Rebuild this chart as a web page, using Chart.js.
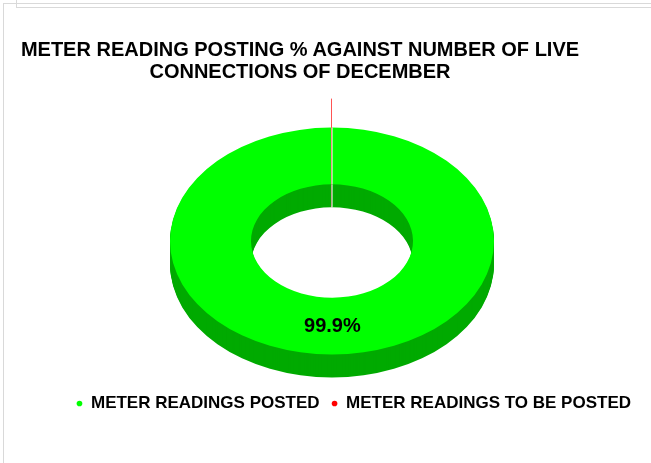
<!DOCTYPE html>
<html>
<head>
<meta charset="utf-8">
<script src="https://cdn.jsdelivr.net/npm/chart.js@4.4.0/dist/chart.umd.min.js"></script>
<style>
  html, body { margin: 0; padding: 0; background: #fff; }
  #wrap { position: relative; width: 651px; height: 463px; overflow: hidden; }
  #frame-outer { position: absolute; left: 3px; top: 3px; width: 660px; height: 470px; border-left: 1px solid #d9d9d9; border-top: 1px solid #d9d9d9; }
  #frame-inner { position: absolute; left: 16px; top: -2px; width: 660px; height: 9px; border-left: 1px solid #d9d9d9; border-bottom: 1px solid #d9d9d9; }
  #title { position: absolute; left: 0; top: 38px; width: 600px; text-align: center; font: bold 20px 'Liberation Sans', Arial, sans-serif; line-height: 22px; color: #000; }
  canvas { position: absolute; left: 0; top: 0; }
</style>
</head>
<body>
<div id="wrap">
  <div id="frame-outer"></div>
  <div id="frame-inner"></div>
  <canvas id="chart" width="651" height="463"></canvas>
  <div id="title"></div>
</div>
<script>
const titleLines = ['METER READING POSTING % AGAINST NUMBER OF LIVE', 'CONNECTIONS OF DECEMBER']
const categories = ['METER READINGS POSTED', 'METER READINGS TO BE POSTED']
const postingPct = [99.9, 0.1]

const topColors = ['#00ff00', '#ff0000']
const sideColors = ['#00aa00', '#b00000']
const fontFamily = "'Liberation Sans', Arial, sans-serif"

document.getElementById('title').innerHTML = titleLines.join('<br>')

// fake excel style 3d ring: tilt the flat doughnut and stack darker copies under it
const ring3d = {
    id: 'ring3d',
    beforeDatasetsDraw(chart, args, opts) {
        const ctx = chart.ctx
        const arcs = chart.getDatasetMeta(0).data
        const tilt = opts.tilt
        const depth = opts.depth

        const ringPath = (arc, dy) => {
            ctx.save()
            ctx.translate(arc.x, arc.y + dy)
            ctx.scale(1, tilt)
            ctx.beginPath()
            ctx.arc(0, 0, arc.outerRadius, arc.startAngle, arc.endAngle)
            ctx.arc(0, 0, arc.innerRadius, arc.endAngle, arc.startAngle, true)
            ctx.closePath()
            ctx.restore()
        }
        const proj = (arc, angle, r) => ({
            x: arc.x + Math.cos(angle) * r,
            y: arc.y + Math.sin(angle) * r * tilt
        })

        // side walls
        for (let d = depth; d > 0; d--) {
            arcs.forEach((arc, i) => {
                ringPath(arc, d)
                ctx.fillStyle = opts.sideColors[i]
                ctx.fill()
            })
        }

        ctx.save()
        ctx.strokeStyle = opts.seamColor
        ctx.lineWidth = 1
        // seam on the inner wall
        arcs.forEach(arc => {
            const p = proj(arc, arc.startAngle, arc.innerRadius)
            ctx.beginPath()
            ctx.moveTo(Math.round(p.x) + 0.5, p.y)
            ctx.lineTo(Math.round(p.x) + 0.5, p.y + depth)
            ctx.stroke()
        })
        ctx.restore()

        // top faces
        arcs.forEach((arc, i) => {
            ringPath(arc, 0)
            ctx.fillStyle = topColors[i]
            ctx.fill()
        })

        ctx.save()
        ctx.strokeStyle = opts.seamColor
        ctx.lineWidth = 1
        arcs.forEach(arc => {
            const a = proj(arc, arc.startAngle, arc.innerRadius)
            const b = proj(arc, arc.startAngle, arc.outerRadius)
            ctx.beginPath()
            ctx.moveTo(Math.round(a.x) + 0.5, a.y)
            ctx.lineTo(Math.round(b.x) + 0.5, b.y)
            ctx.stroke()
        })

        // leader line for the tiny slice
        const total = postingPct.reduce((s, v) => s + v, 0)
        arcs.forEach((arc, i) => {
            if (postingPct[i] / total * 100 >= 1) return
            const mid = (arc.startAngle + arc.endAngle) / 2
            const a = proj(arc, mid, arc.outerRadius)
            const b = proj(arc, mid, arc.outerRadius + opts.leader / tilt)
            ctx.strokeStyle = opts.leaderColor
            ctx.beginPath()
            ctx.moveTo(Math.round(a.x) + 0.5, a.y)
            ctx.lineTo(Math.round(b.x) + 0.5, b.y)
            ctx.stroke()
        })
        ctx.restore()
        return false
    },
    afterDraw(chart, args, opts) {
        // data labels (afterDatasetsDraw is skipped once beforeDatasetsDraw returns false)
        const ctx = chart.ctx
        const arcs = chart.getDatasetMeta(0).data
        const total = postingPct.reduce((s, v) => s + v, 0)
        ctx.save()
        ctx.font = 'bold 20px ' + fontFamily
        ctx.fillStyle = '#000'
        ctx.textAlign = 'center'
        ctx.textBaseline = 'middle'
        arcs.forEach((arc, i) => {
            const pct = postingPct[i] / total * 100
            if (pct < 1) return
            const mid = (arc.startAngle + arc.endAngle) / 2
            const r = (arc.innerRadius + arc.outerRadius) / 2
            ctx.fillText(pct.toFixed(1) + '%', arc.x + Math.cos(mid) * r, arc.y + Math.sin(mid) * r * opts.tilt)
        })
        ctx.restore()
    }
}

const ctx = document.getElementById('chart').getContext('2d')

const config = {
    type: 'doughnut',
    data: {
        labels: categories,
        datasets: [{
            data: postingPct,
            backgroundColor: topColors,
            borderWidth: 0
        }]
    },
    options: {
        responsive: false,
        animation: false,
        radius: 162,
        cutout: '50%',
        layout: {
            padding: {left: 21, right: 8, top: 99, bottom: 41}
        },
        plugins: {
            title: {display: false},
            tooltip: {enabled: false},
            legend: {
                position: 'bottom',
                align: 'end',
                labels: {
                    usePointStyle: true,
                    pointStyle: 'circle',
                    boxWidth: 6,
                    boxHeight: 4,
                    padding: 12,
                    color: '#000',
                    font: {family: fontFamily, size: 17, weight: 'bold'}
                }
            },
            ring3d: {
                tilt: 0.7,
                depth: 23,
                leader: 29,
                sideColors: sideColors,
                seamColor: 'rgba(255,255,255,0.55)',
                leaderColor: 'rgba(255,40,40,0.8)'
            }
        }
    },
    plugins: [ring3d]
}

const myChart = new Chart(ctx, config)
</script>
</body>
</html>
